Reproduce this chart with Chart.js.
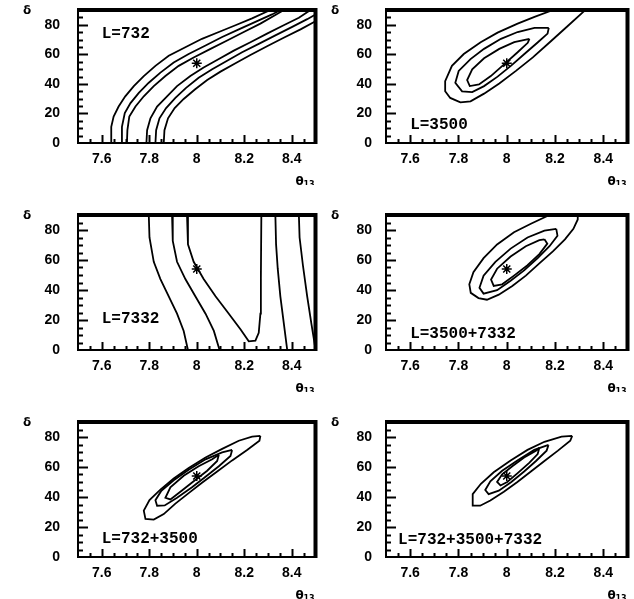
<!DOCTYPE html>
<html>
<head>
<meta charset="utf-8">
<script src="https://cdn.jsdelivr.net/npm/chart.js@4.4.0/dist/chart.umd.min.js"></script>
<style>
  html, body { margin: 0; padding: 0; background: #fff; overflow: hidden; }
  canvas { position: absolute; }
</style>
</head>
<body>
<canvas id="c1"></canvas>
<canvas id="c2"></canvas>
<canvas id="c3"></canvas>
<canvas id="c4"></canvas>
<canvas id="c5"></canvas>
<canvas id="c6"></canvas>
<script>
// --- axes ---
const xTicks      = [7.6, 7.8, 8, 8.2, 8.4];
const xTickLabels = ['7.6', '7.8', '8', '8.2', '8.4'];
const yTicks      = [0, 20, 40, 60, 80];
const yTickLabels = ['0', '20', '40', '60', '80'];
const truePoint   = [8.0, 54];   // star
const baselines   = ['L=732', 'L=3500', 'L=7332', 'L=3500+7332', 'L=732+3500', 'L=732+3500+7332'];

// --- contours, [theta13, delta] ---
// L=732 : two bands of three lines
const l732a = [[7.640,0],[7.640,11.0],[7.650,17.9],[7.671,24.7],[7.699,31.6],[7.735,38.5],[7.777,45.3],[7.826,52.2],[7.882,59.1],[7.952,64.8],[8.022,70.5],[8.093,75.1],[8.163,79.7],[8.233,84.3],[8.310,90]];
const l732b = [[7.683,0],[7.685,11.0],[7.697,20.2],[7.721,27.0],[7.756,33.9],[7.798,40.8],[7.847,47.6],[7.903,54.5],[7.966,60.2],[8.037,66.0],[8.107,71.7],[8.177,76.9],[8.247,82.0],[8.317,87.0],[8.353,90]];
const l732c = [[7.706,0],[7.708,8.7],[7.716,17.9],[7.742,24.7],[7.777,31.6],[7.819,38.5],[7.868,45.3],[7.924,52.2],[7.987,57.9],[8.058,63.7],[8.128,69.4],[8.198,75.1],[8.268,80.8],[8.331,86.6],[8.367,90]];
const l732d = [[7.788,0],[7.791,8.7],[7.805,16.7],[7.833,24.7],[7.875,31.6],[7.917,38.5],[7.973,45.3],[8.029,51.1],[8.093,56.8],[8.156,62.5],[8.226,68.2],[8.296,74.0],[8.366,79.7],[8.430,84.7],[8.479,90]];
const l732e = [[7.826,0],[7.829,8.7],[7.843,16.7],[7.871,23.6],[7.910,30.5],[7.955,37.3],[8.008,44.2],[8.065,49.9],[8.128,55.6],[8.191,61.4],[8.261,67.1],[8.331,72.8],[8.402,78.6],[8.465,83.8],[8.5,87.0]];
const l732f = [[7.861,0],[7.864,8.7],[7.879,16.7],[7.907,23.6],[7.945,29.8],[7.992,36.2],[8.044,42.6],[8.100,48.3],[8.163,54.0],[8.226,59.5],[8.296,65.5],[8.366,71.2],[8.437,76.9],[8.5,82.4]];

// L=3500
const l3500a = [[8.192,90],[8.115,85.4],[8.045,80.8],[7.962,74.7],[7.892,68.2],[7.822,60.2],[7.773,52.2],[7.745,41.9],[7.745,35.0],[7.766,30.5],[7.808,27.5],[7.850,28.2],[7.906,33.4],[7.969,40.3],[8.038,48.8],[8.108,57.9],[8.178,68.2],[8.248,78.5],[8.318,88.9],[8.325,90]];
const l3500b = [[8.174,77.9],[8.169,74.0],[8.129,68.2],[8.073,60.2],[8.017,52.2],[7.962,44.9],[7.906,38.5],[7.857,34.4],[7.815,35.0],[7.787,40.8],[7.801,48.8],[7.850,56.8],[7.906,63.7],[7.976,70.5],[8.045,75.1],[8.115,77.9],[8.174,77.9]];
const l3500c = [[8.094,70.5],[8.087,67.8],[8.045,61.4],[7.990,53.4],[7.934,45.3],[7.885,39.6],[7.847,38.5],[7.836,42.6],[7.857,49.9],[7.906,57.3],[7.969,63.7],[8.031,68.2],[8.094,70.5]];

// L=7332
const l7332a = [[7.798,90],[7.801,75.0],[7.819,58.8],[7.847,47.3],[7.882,35.8],[7.917,24.2],[7.945,12.7],[7.963,0]];
const l7332b = [[7.896,90],[7.899,72.7],[7.917,58.8],[7.952,47.3],[7.994,35.8],[8.037,24.2],[8.072,12.7],[8.096,0]];
const l7332c = [[7.959,90],[7.963,70.4],[7.987,58.8],[8.029,47.3],[8.079,35.8],[8.135,24.2],[8.184,13.8],[8.219,5.8],[8.247,6.2],[8.261,11.5],[8.268,24.2],[8.270,47.3],[8.272,90]];
const l7332d = [[8.331,90],[8.334,70.4],[8.341,54.2],[8.352,35.8],[8.367,17.3],[8.381,0]];
const l7332e = [[8.430,90],[8.433,75.0],[8.447,56.5],[8.465,35.8],[8.483,17.3],[8.497,3.5]];

// L=3500+7332
const l3500_7332a = [[8.177,90],[8.100,84.2],[8.030,78.5],[7.960,70.4],[7.904,61.2],[7.862,51.9],[7.845,43.8],[7.851,38.1],[7.883,34.6],[7.918,33.5],[7.967,36.9],[8.023,42.7],[8.079,49.6],[8.135,57.7],[8.191,65.8],[8.241,73.8],[8.276,80.8],[8.294,87.0],[8.294,90]];
const l3500_7332b = [[8.205,80.8],[8.210,76.2],[8.177,69.2],[8.128,61.2],[8.072,53.1],[8.016,46.2],[7.960,39.9],[7.904,37.6],[7.887,41.5],[7.904,49.6],[7.953,58.8],[8.016,67.6],[8.086,75.0],[8.156,79.6],[8.205,80.8]];
const l3500_7332c = [[8.156,73.8],[8.168,70.9],[8.135,63.9],[8.086,56.5],[8.030,49.6],[7.981,43.8],[7.946,42.7],[7.935,46.9],[7.960,54.2],[8.016,62.3],[8.079,69.2],[8.135,73.2],[8.156,73.8]];

// L=732+3500
const l732_3500a = [[8.268,80.7],[8.264,77.5],[8.212,71.4],[8.149,64.4],[8.086,57.0],[8.022,49.5],[7.966,42.6],[7.910,35.6],[7.861,28.6],[7.819,24.9],[7.784,25.4],[7.777,30.9],[7.801,37.9],[7.847,44.9],[7.903,52.3],[7.966,59.3],[8.037,66.3],[8.107,72.1],[8.177,77.5],[8.233,80.2],[8.268,80.7]];
const l732_3500b = [[8.149,71.4],[8.142,67.4],[8.093,60.5],[8.037,53.5],[7.980,46.5],[7.917,39.5],[7.865,34.4],[7.833,34.2],[7.826,37.9],[7.851,44.2],[7.903,51.2],[7.966,58.1],[8.037,65.1],[8.107,69.8],[8.149,71.4]];
const l732_3500c = [[8.093,68.2],[8.086,64.0],[8.044,57.5],[7.987,50.5],[7.931,43.5],[7.889,38.4],[7.868,39.5],[7.889,46.5],[7.945,54.2],[8.008,60.5],[8.065,65.1],[8.093,68.2]];

// L=732+3500+7332
const lAllA = [[8.271,80.7],[8.263,77.5],[8.212,70.9],[8.156,64.0],[8.100,57.0],[8.044,50.0],[7.988,43.5],[7.932,37.7],[7.890,34.2],[7.859,34.2],[7.859,41.9],[7.893,48.8],[7.946,56.5],[8.016,64.4],[8.086,71.4],[8.156,76.8],[8.227,80.2],[8.271,80.7]];
const lAllB = [[8.173,74.7],[8.165,70.9],[8.121,64.0],[8.072,57.0],[8.019,50.0],[7.967,44.2],[7.925,41.9],[7.911,44.7],[7.932,50.5],[7.981,57.5],[8.044,64.4],[8.114,71.4],[8.173,74.7]];
const lAllC = [[8.135,72.8],[8.128,68.6],[8.093,62.8],[8.044,55.8],[8.002,50.0],[7.974,47.7],[7.960,50.0],[7.981,55.1],[8.023,60.5],[8.072,66.3],[8.121,70.9],[8.135,72.8]];

// --- panel layout ---
const panels = [
  { id: 'c1', left: 0,   top: 0,   w: 322, h: 185, yW: 78, yPad: 18, padR: 5, label: baselines[0], labelAt: [7.6, 74],   lines: [l732a, l732b, l732c, l732d, l732e, l732f] },
  { id: 'c2', left: 317, top: 0,   w: 317, h: 185, yW: 69, yPad: 14, padR: 6, label: baselines[1], labelAt: [7.6, 12],   lines: [l3500a, l3500b, l3500c] },
  { id: 'c3', left: 0,   top: 205, w: 322, h: 187, yW: 78, yPad: 18, padR: 5, label: baselines[2], labelAt: [7.6, 21],   lines: [l7332a, l7332b, l7332c, l7332d, l7332e] },
  { id: 'c4', left: 317, top: 205, w: 317, h: 187, yW: 69, yPad: 14, padR: 6, label: baselines[3], labelAt: [7.6, 11],   lines: [l3500_7332a, l3500_7332b, l3500_7332c] },
  { id: 'c5', left: 0,   top: 412, w: 322, h: 187, yW: 78, yPad: 18, padR: 5, label: baselines[4], labelAt: [7.6, 12],   lines: [l732_3500a, l732_3500b, l732_3500c] },
  { id: 'c6', left: 317, top: 412, w: 317, h: 187, yW: 69, yPad: 14, padR: 6, label: baselines[5], labelAt: [7.55, 11.5], lines: [lAllA, lAllB, lAllC] }
];

// frame, inner ticks, in-plot label and axis symbols
const framePlugin = {
  id: 'frame',
  afterDraw(chart, args, opts) {
    const ctx = chart.ctx;
    const a = chart.chartArea;
    const xs = chart.scales.x;
    const ys = chart.scales.y;
    ctx.save();
    ctx.strokeStyle = '#000';
    ctx.lineWidth = 2;

    // inner tick marks: every 0.05 on x, every 5 on y
    for (let i = 1; i < 20; i++) {
      const px = Math.round(xs.getPixelForValue(7.5 + i * 0.05)) + 0.5;
      const len = (i % 4 === 2) ? 8 : 4;
      ctx.beginPath();
      ctx.moveTo(px, a.bottom);
      ctx.lineTo(px, a.bottom - len);
      ctx.stroke();
    }
    for (let i = 1; i < 18; i++) {
      const py = Math.round(ys.getPixelForValue(i * 5)) + 0.5;
      const len = (i % 4 === 0) ? 10 : 5;
      ctx.beginPath();
      ctx.moveTo(a.left, py);
      ctx.lineTo(a.left + len, py);
      ctx.stroke();
    }

    // box: thin left/bottom, heavy top/right
    ctx.lineWidth = 2;
    ctx.beginPath();
    ctx.moveTo(a.left, a.top);
    ctx.lineTo(a.left, a.bottom);
    ctx.lineTo(a.right, a.bottom);
    ctx.stroke();
    ctx.lineWidth = 4;
    ctx.beginPath();
    ctx.moveTo(a.left - 1, a.top);
    ctx.lineTo(a.right, a.top);
    ctx.lineTo(a.right, a.bottom + 1);
    ctx.stroke();

    ctx.fillStyle = '#000';
    ctx.font = 'bold 16px "Liberation Mono"';
    ctx.textAlign = 'left';
    ctx.textBaseline = 'middle';
    ctx.fillText(opts.label, xs.getPixelForValue(opts.labelAt[0]), ys.getPixelForValue(opts.labelAt[1]));

    ctx.font = 'bold 12px "DejaVu Sans"';
    ctx.fillText('δ', a.left - 55, a.top + 1);
    ctx.fillText('θ', a.right - 20, a.bottom + 39);
    ctx.font = 'bold 8px "DejaVu Sans"';
    ctx.fillText('13', a.right - 12, a.bottom + 42);
    ctx.restore();
  }
};

const tickFont = { family: 'Liberation Sans', size: 14, weight: 'bold' };

panels.forEach(p => {
  const cv = document.getElementById(p.id);
  cv.width = p.w;
  cv.height = p.h;
  cv.style.left = p.left + 'px';
  cv.style.top = p.top + 'px';

  const datasets = p.lines.map(pts => ({
    data: pts.map(q => ({ x: q[0], y: q[1] })),
    showLine: true,
    borderColor: '#000',
    borderWidth: 1.8,
    pointRadius: 0,
    tension: 0,
    fill: false
  }));
  datasets.push({
    data: [{ x: truePoint[0], y: truePoint[1] }],
    pointStyle: 'star',
    pointRadius: 5,
    borderColor: '#000',
    borderWidth: 1.5,
    showLine: false
  });

  new Chart(cv.getContext('2d'), {
    type: 'scatter',
    data: { datasets },
    options: {
      responsive: false,
      animation: false,
      layout: { padding: { left: 0, right: p.padR, top: 10, bottom: 0 } },
      plugins: {
        legend: { display: false },
        tooltip: { enabled: false },
        frame: { label: p.label, labelAt: p.labelAt }
      },
      scales: {
        x: {
          type: 'linear', min: 7.5, max: 8.5,
          afterBuildTicks: ax => { ax.ticks = xTicks.map(v => ({ value: v })); },
          afterFit: ax => { ax.height = 42; },
          // label offset through tickLength (grid hidden) so it adds no layout padding
          grid: { display: false, drawTicks: true, tickLength: 8 },
          border: { display: false },
          ticks: { autoSkip: false, maxRotation: 0, padding: 0, color: '#000', font: tickFont,
                   callback: (v, i) => xTickLabels[i] }
        },
        y: {
          type: 'linear', min: 0, max: 90,
          afterBuildTicks: ax => { ax.ticks = yTicks.map(v => ({ value: v })); },
          afterFit: ax => { ax.width = p.yW; },
          grid: { display: false, drawTicks: true, tickLength: p.yPad },
          border: { display: false },
          ticks: { autoSkip: false, padding: 0, color: '#000', font: tickFont,
                   callback: (v, i) => yTickLabels[i] }
        }
      }
    },
    plugins: [framePlugin]
  });
});
</script>
</body>
</html>
